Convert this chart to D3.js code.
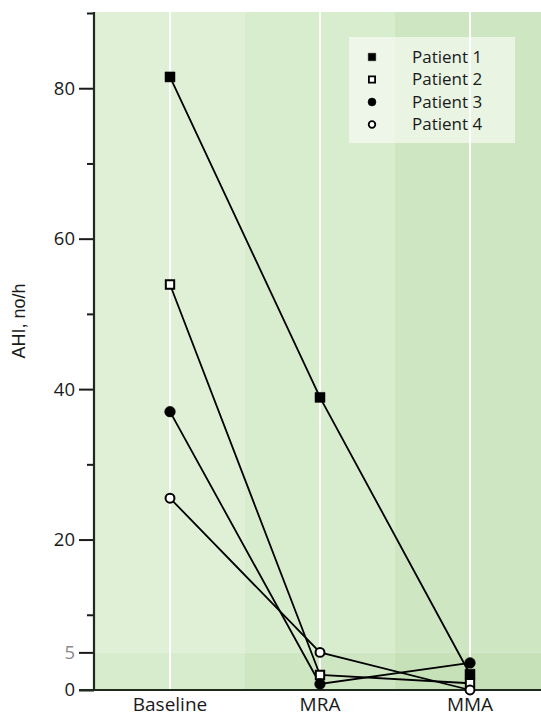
<!DOCTYPE html>
<html>
<head>
<meta charset="utf-8">
<script src="https://cdn.jsdelivr.net/npm/d3@7"></script>
<style>
  body { margin: 0; background: #fff; }
  svg { display: block; }
</style>
</head>
<body>
<div class="chart"></div>
<script>
const categories = ["Baseline", "MRA", "MMA"];
const patientNames = ["Patient 1", "Patient 2", "Patient 3", "Patient 4"];
const patient1 = [81.5, 38.9, 2.1];
const patient2 = [53.9, 2.0, 0.9];
const patient3 = [37.0, 0.8, 3.6];
const patient4 = [25.5, 5.0, 0];
const majorTicks = [0, 5, 20, 40, 60, 80];
const minorTicks = [10, 30, 50, 70, 90];

const svgWidth = 541, svgHeight = 717;
const series = [patient1, patient2, patient3, patient4];
const markers = [
  {shape: d3.symbolSquare, fill: "#000", size: 100},
  {shape: d3.symbolSquare, fill: "#fff", size: 70},
  {shape: d3.symbolCircle, fill: "#000", size: 90},
  {shape: d3.symbolCircle, fill: "#fff", size: 62}
];
const bandTop = ["#e0f0d7", "#d8ecce", "#cee6c1"];
const bandLow = ["#d7ebcd", "#cfe6c2", "#c6e1b7"];

let svg = d3.select(".chart").append("svg")
  .attr("width", svgWidth)
  .attr("height", svgHeight);

let xScale = d3.scaleBand()
  .domain(categories)
  .range([95, 545])
  .padding(0);

let yScale = d3.scaleLinear()
  .domain([0, 90])
  .range([690, 13]);

const cx = (c) => xScale(c) + xScale.bandwidth() / 2;

// background bands
svg.append("g").selectAll("rect")
  .data(categories)
  .enter()
  .append("rect")
  .attr("x", (d) => xScale(d))
  .attr("y", yScale(90) - 1)
  .attr("width", xScale.bandwidth())
  .attr("height", yScale(5) - yScale(90) + 1)
  .attr("fill", (d, i) => bandTop[i]);

svg.append("g").selectAll("rect")
  .data(categories)
  .enter()
  .append("rect")
  .attr("x", (d) => xScale(d))
  .attr("y", yScale(5))
  .attr("width", xScale.bandwidth())
  .attr("height", yScale(0) - yScale(5))
  .attr("fill", (d, i) => bandLow[i]);

// white category lines
svg.append("g").selectAll("line")
  .data(categories)
  .enter()
  .append("line")
  .attr("x1", cx).attr("x2", cx)
  .attr("y1", yScale(90) - 1)
  .attr("y2", yScale(0))
  .attr("stroke", "#fff")
  .attr("stroke-width", 2);

// y axis
let yAxis = d3.axisLeft(yScale)
  .tickValues(majorTicks)
  .tickSize(15)
  .tickPadding(4)
  .tickFormat(d3.format("d"));

let yAxisMinor = d3.axisLeft(yScale)
  .tickValues(minorTicks)
  .tickSize(7)
  .tickFormat("");

let gy = svg.append("g")
  .attr("class", "y-axis")
  .attr("transform", "translate(94,0)")
  .call(yAxis);
svg.append("g")
  .attr("class", "y-axis-minor")
  .attr("transform", "translate(94,0)")
  .call(yAxisMinor);

svg.selectAll(".y-axis path, .y-axis-minor path").remove();
svg.selectAll(".y-axis line, .y-axis-minor line")
  .attr("stroke", "#1a1a1a")
  .attr("stroke-width", 2);
gy.selectAll("text")
  .attr("font-family", "Open Sans")
  .attr("font-size", 18.5)
  .attr("fill", (d) => d === 5 ? "#8a8a8a" : "#1a1a1a");

// axis lines
svg.append("line")
  .attr("x1", 94).attr("x2", 94)
  .attr("y1", yScale(90) - 1).attr("y2", yScale(0) + 1)
  .attr("stroke", "#1e2a1c")
  .attr("stroke-width", 2.2);
svg.append("line")
  .attr("x1", 79).attr("x2", svgWidth)
  .attr("y1", yScale(0)).attr("y2", yScale(0))
  .attr("stroke", "#1e2a1c")
  .attr("stroke-width", 2.2);

// x labels
svg.append("g").selectAll("text")
  .data(categories)
  .enter()
  .append("text")
  .attr("x", cx)
  .attr("y", 711)
  .attr("text-anchor", "middle")
  .attr("font-family", "Open Sans")
  .attr("font-size", 19)
  .attr("fill", "#1a1a1a")
  .text((d) => d);

// y title
svg.append("text")
  .attr("transform", "translate(25,321) rotate(-90)")
  .attr("text-anchor", "middle")
  .attr("font-family", "Liberation Sans")
  .attr("font-size", 18)
  .attr("fill", "#1a1a1a")
  .text("AHI, no/h");

// lines
let line = d3.line()
  .x((d, i) => cx(categories[i]))
  .y((d) => yScale(d));

svg.append("g").selectAll("path")
  .data(series)
  .enter()
  .append("path")
  .attr("d", line)
  .attr("fill", "none")
  .attr("stroke", "#000")
  .attr("stroke-width", 1.8);

// markers
series.forEach((s, k) => {
  svg.append("g").selectAll("path")
    .data(s)
    .enter()
    .append("path")
    .attr("transform", (d, i) => `translate(${cx(categories[i])}, ${yScale(d)})`)
    .attr("d", d3.symbol().type(markers[k].shape).size(markers[k].size))
    .attr("fill", markers[k].fill)
    .attr("stroke", "#000")
    .attr("stroke-width", markers[k].fill === "#fff" ? 2 : 0.5);
});

// legend
let legend = svg.append("g").attr("class", "legend");
legend.append("rect")
  .attr("x", 349).attr("y", 37)
  .attr("width", 166).attr("height", 106)
  .attr("fill", "#fff")
  .attr("fill-opacity", 0.55);

let legendRows = legend.selectAll(".row")
  .data(patientNames)
  .enter()
  .append("g")
  .attr("class", "row")
  .attr("transform", (d, i) => `translate(0, ${57 + i * 22.5})`);

legendRows.append("path")
  .attr("transform", "translate(372,0)")
  .attr("d", (d, i) => d3.symbol().type(markers[i].shape).size(markers[i].size * 0.55)())
  .attr("fill", (d, i) => markers[i].fill)
  .attr("stroke", "#000")
  .attr("stroke-width", (d, i) => markers[i].fill === "#fff" ? 1.8 : 0.5);

legendRows.append("text")
  .attr("x", 412)
  .attr("y", 0)
  .attr("dy", "0.35em")
  .attr("font-family", "Open Sans")
  .attr("font-size", 17)
  .attr("fill", "#1a1a1a")
  .text((d) => d);
</script>
</body>
</html>
